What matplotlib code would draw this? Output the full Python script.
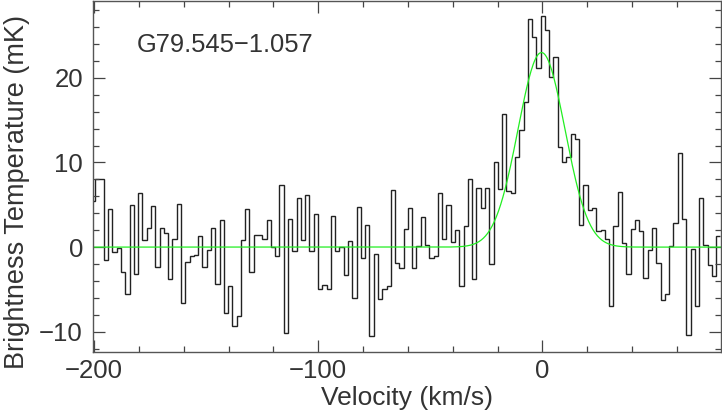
import numpy as np
import matplotlib
matplotlib.use("Agg")
import matplotlib.pyplot as plt
from matplotlib.ticker import MultipleLocator

# channel grid of the spectrum (km/s)
v_first_edge = -201.33
dv = 1.910

# brightness temperature per channel (mK)
tb = [5.4, 8.0, 8.0,
      -1.5, 4.5, -0.6, -0.1, -3.0, -5.6, 5.0, -3.2, 6.4, 0.8, 2.2, 4.8, -2.3, 2.2, 1.7, -3.8, 1.0, 5.1, -6.6,
      -1.8, -1.1, -0.9, 1.3, -2.3, -0.3, 2.3, -4.4, 3.2, -7.8, -4.6, -9.3, -8.1, 0.8, 4.5, -2.9, 1.4, 1.4, 1.0, 3.2, 0.0,
      -1.1, 7.3, -10.2, 3.3, -0.5, 5.8, 0.8, 6.2, -0.5, 3.9, -4.9, -4.5, -4.9, 3.7, -0.5, 0.0, -3.3, 0.7, -6.0, 4.7, -1.3,
      2.6, -10.5, -0.8, -6.1, -5.0, -4.6, 6.7, -1.9, -2.5, 2.1, 4.6, -2.5, 0.1, 3.5, 0.2, -1.3, -1.1, 6.4, 1.0, 5.0, 0.6,
      2.0, -4.6, 2.5, 8.1, -3.8, 7.0, 4.6, 7.0, -2.0, 10.1, 6.9, 15.7, 6.6, 6.4, 10.6, 13.9, 17.2, 27.0, 24.8, 21.2, 27.3,
      25.7, 20.1, 22.5, 11.8, 10.1, 10.7, 13.4, 12.8, 2.6, 7.3, 4.4, 4.6, 1.9, 2.0, 1.0, -7.0, 2.5, 6.5, 0.5, -3.2, 2.1,
      3.2, 1.9, -3.7, -0.3, 2.2, -1.9, -6.3, -5.6, 0.1, 2.9, 11.1, 3.3, -10.4, -0.2, -7.0, 5.8, 0.3, -2.1, -3.4, 1.3]

# gaussian fit
fit_amp = 23.0
fit_center = -0.4
fit_fwhm = 24.6

source_name = "G79.545\u22121.057"

plt.rcParams['font.family'] = ['Liberation Sans', 'DejaVu Sans']
plt.rcParams['axes.unicode_minus'] = True

fig = plt.figure(figsize=(7.22, 4.15), dpi=100)
ax = fig.add_axes([0.1284, 0.1518, 0.870, 0.846])

edges = v_first_edge + dv * np.arange(len(tb) + 1)
ax.stairs(tb, edges, baseline=None, color='#222222', lw=1.0)

vfit = np.linspace(-205, 85, 600)
sig = fit_fwhm / (2 * np.sqrt(2 * np.log(2)))
ax.plot(vfit, fit_amp * np.exp(-0.5 * ((vfit - fit_center) / sig) ** 2), color='#22ee22', lw=0.9)

ax.set_xlim(-200.6, 79.6)
ax.set_ylim(-12.4, 29.1)
ax.xaxis.set_major_locator(MultipleLocator(100))
ax.xaxis.set_minor_locator(MultipleLocator(20))
ax.yaxis.set_major_locator(MultipleLocator(10))
ax.yaxis.set_minor_locator(MultipleLocator(2))
ax.tick_params(which='both', direction='in', top=True, right=True, colors='#444444',
               labelcolor='#333333', labelsize=18.5, width=0.9)
ax.tick_params(which='major', length=8.6)
ax.tick_params(axis='x', which='major', pad=5)
ax.tick_params(axis='y', which='major', pad=7)
ax.tick_params(which='minor', length=4.3)
for s in ax.spines.values():
    s.set_color('#555555')
    s.set_linewidth(1.0)

ax.set_xlabel('Velocity (km/s)', fontsize=19, color='#333333', labelpad=2)
ax.set_ylabel('Brightness Temperature (mK)', fontsize=19.5, color='#333333')
ax.yaxis.set_label_coords(-0.100, 0.455)
ax.text(0.07, 0.874, source_name, transform=ax.transAxes, fontsize=18.4, color='#333333',
        ha='left', va='center')

fig.savefig('out.png', dpi=100)
